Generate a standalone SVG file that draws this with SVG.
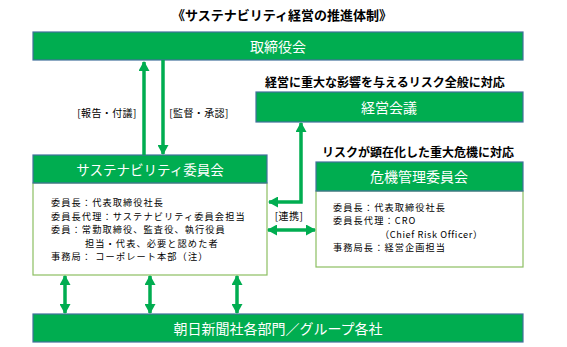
<svg xmlns="http://www.w3.org/2000/svg" width="567" height="347" viewBox="0 0 567 347">
<style>
text{font-family:"Noto Sans CJK JP","Liberation Sans",sans-serif}
.bar{fill:#00AD50;stroke:#41719C;stroke-width:1.2}
.body{fill:#fff;stroke:#8CBF62;stroke-width:1.2}
.hd{fill:#fff;font-size:14px;text-anchor:middle;dominant-baseline:central}
.note{fill:#000;font-size:12px;font-weight:bold}
.txt{fill:#000;font-size:9.2px;letter-spacing:1.1px}
.lbl{fill:#000;font-size:10px;text-anchor:middle;letter-spacing:0.4px}
.ar{fill:none;stroke:#00AD50;stroke-width:3.5}
</style>
<defs>
<marker id="ah" markerUnits="userSpaceOnUse" markerWidth="10" markerHeight="11" refX="9" refY="5.5" orient="auto-start-reverse">
<path d="M0,0 L10,5.5 L0,11 Z" fill="#00AD50"/>
</marker>
</defs>
<text x="282" y="20" text-anchor="middle" style="font-size:13px;font-weight:bold">《サステナビリティ経営の推進体制》</text>
<g id="board">
<rect class="bar" x="33" y="32" width="490" height="28"/>
<text class="hd" x="278" y="46">取締役会</text>
</g>
<g id="mgmt">
<text class="note" x="265" y="87">経営に重大な影響を与えるリスク全般に対応</text>
<rect class="bar" x="256" y="92" width="267" height="30"/>
<text class="hd" x="389" y="107">経営会議</text>
</g>
<g id="sust">
<rect class="body" x="33" y="183" width="234" height="92"/>
<rect class="bar" x="33" y="155" width="234" height="28"/>
<text class="hd" x="150" y="169" style="font-size:13.5px">サステナビリティ委員会</text>
<text class="txt" x="51" y="206">委員長：代表取締役社長</text>
<text class="txt" x="51" y="219.5">委員長代理：サステナビリティ委員会担当</text>
<text class="txt" x="51" y="233">委員：常勤取締役、監査役、執行役員</text>
<text class="txt" x="85" y="246.5">担当・代表、必要と認めた者</text>
<text class="txt" x="51" y="260">事務局：&#160;コーポレート本部（注）</text>
</g>
<g id="crisis">
<text class="note" x="322" y="157">リスクが顕在化した重大危機に対応</text>
<rect class="body" x="316" y="191" width="207" height="76"/>
<rect class="bar" x="316" y="162" width="207" height="29"/>
<text class="hd" x="419" y="176">危機管理委員会</text>
<text class="txt" x="333" y="211">委員長：代表取締役社長</text>
<text class="txt" x="333" y="224">委員長代理：CRO</text>
<text class="txt" x="380" y="237.5" style="letter-spacing:0.6px">（Chief Risk Officer）</text>
<text class="txt" x="333" y="251">事務局長：経営企画担当</text>
</g>
<g id="groups">
<rect class="bar" x="33" y="314" width="490" height="28"/>
<text class="hd" x="278" y="328">朝日新聞社各部門／グループ各社</text>
</g>
<g id="connectors">
<path class="ar" d="M144 155 V62" marker-end="url(#ah)"/>
<path class="ar" d="M163 60 V154" marker-end="url(#ah)"/>
<text class="lbl" x="107" y="117">[報告・付議]</text>
<text class="lbl" x="199" y="117">[監督・承認]</text>
<path class="ar" d="M269 202 H301 V123" marker-start="url(#ah)" marker-end="url(#ah)"/>
<path class="ar" d="M268 230 H315" marker-start="url(#ah)" marker-end="url(#ah)"/>
<text class="lbl" x="289" y="220">[連携]</text>
<path class="ar" d="M65 276 V313" marker-start="url(#ah)" marker-end="url(#ah)"/>
<path class="ar" d="M150 276 V313" marker-start="url(#ah)" marker-end="url(#ah)"/>
<path class="ar" d="M237 276 V313" marker-start="url(#ah)" marker-end="url(#ah)"/>
</g>
</svg>
